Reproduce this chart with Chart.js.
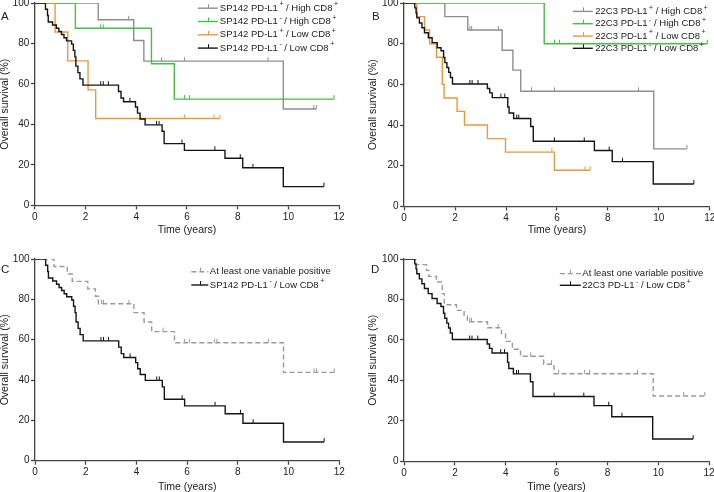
<!DOCTYPE html>
<html>
<head>
<meta charset="utf-8">
<script src="https://cdn.jsdelivr.net/npm/chart.js@4.4.1/dist/chart.umd.min.js"></script>
<style>
  body { margin: 0; width: 714px; height: 492px; overflow: hidden; position: relative; background: #fff;
         font-family: "Liberation Sans", Arial, sans-serif; }
  canvas { position: absolute; }
  .tag { position: absolute; font-size: 11.5px; line-height: 1; color: #222; }
</style>
</head>
<body>
<canvas id="pA"></canvas>
<canvas id="pB"></canvas>
<canvas id="pC"></canvas>
<canvas id="pD"></canvas>
<div class="tag" style="left:1px;top:10.5px">A</div>
<div class="tag" style="left:372px;top:10.5px">B</div>
<div class="tag" style="left:1px;top:263.5px">C</div>
<div class="tag" style="left:371px;top:263.5px">D</div>
<script>
const xTicks = [0, 2, 4, 6, 8, 10, 12];
const yTicks = [0, 20, 40, 60, 80, 100];

const spLabels = ['SP142 PD-L1⁺ / High CD8⁺', 'SP142 PD-L1⁻ / High CD8⁺', 'SP142 PD-L1⁺ / Low CD8⁺', 'SP142 PD-L1⁻ / Low CD8⁺'];
const c3Labels = ['22C3 PD-L1⁺ / High CD8⁺', '22C3 PD-L1⁻ / High CD8⁺', '22C3 PD-L1⁺ / Low CD8⁺', '22C3 PD-L1⁻ / Low CD8⁺'];
const anyLabel = 'At least one variable positive';

// SP142 groups: t = event times (years), s = survival (%) after event, c = censored times
const spPosHigh_t = [0, 2.5, 3.9, 4.3, 9.8, 11.1];
const spPosHigh_s = [100, 91.7, 81.5, 71.3, 47.6, 47.6];
const spPosHigh_c = [3.7, 5.0, 5.9, 9.2, 11.0, 11.1];

const spNegHigh_t = [0, 1.6, 4.6, 5.5, 11.8];
const spNegHigh_s = [100, 87.5, 70, 52.5, 52.5];
const spNegHigh_c = [2.6, 2.7, 5.9, 6.1, 11.8];

const spPosLow_t = [0, 0.8, 1.3, 2.1, 2.4, 7.3];
const spPosLow_s = [100, 85.7, 71.4, 57.1, 42.9, 42.9];
const spPosLow_c = [5.9, 7.07, 7.3];

const spNegLow_t = [0, 0.42, 0.5, 0.53, 0.7, 0.85, 0.95, 1.05, 1.15, 1.25, 1.45, 1.52, 1.58, 1.62, 1.7, 1.78, 1.9,
                    3.3, 3.4, 3.5, 3.97, 4.05, 4.15, 4.35, 5.02, 5.1, 5.9, 7.5, 8.2, 9.8, 11.4];
const spNegLow_s = [100, 96.9, 93.8, 90.6, 89.1, 87.5, 85.9, 84.4, 82.8, 81.3, 79.7, 76.6, 73.4, 68.8, 65.6, 62.5, 59.4,
                    56.3, 53.1, 51.2, 48.6, 45.6, 42.7, 39.8, 36.6, 30.5, 27.2, 23.3, 18.6, 9.3, 9.3];
const spNegLow_c = [2.6, 2.7, 2.9, 3.75, 4.8, 4.9, 5.8, 7.1, 8.1, 8.6, 11.4];

const spAny_t = [0, 0.75, 1.27, 1.47, 2.08, 2.38, 2.5, 3.9, 4.3, 4.6, 5.5, 9.8, 11.8];
const spAny_s = [100, 96.3, 92.6, 88.9, 85.2, 81.5, 77.8, 73.4, 68.8, 64.0, 58.5, 43.8, 43.8];
const spAny_c = [2.62, 2.7, 3.7, 5.05, 5.9, 6.1, 7.07, 7.17, 9.2, 11.0, 11.1, 11.8];

// 22C3 groups
const c3PosHigh_t = [0, 1.6, 2.5, 3.85, 4.27, 4.58, 9.8, 11.1];
const c3PosHigh_s = [100, 93.3, 86.7, 76.8, 67.0, 56.6, 28.3, 28.3];
const c3PosHigh_c = [2.58, 2.65, 3.7, 5.0, 5.9, 9.2, 11.1];

const c3NegHigh_t = [0, 5.5, 11.9];
const c3NegHigh_s = [100, 80, 80];
const c3NegHigh_c = [5.9, 6.1, 11.9];

const c3PosLow_t = [0, 0.5, 0.8, 1.0, 1.27, 1.5, 1.57, 2.08, 2.37, 3.27, 3.98, 5.9, 7.3];
const c3PosLow_s = [100, 93.3, 86.7, 80, 73.3, 60, 53.3, 46.7, 40, 33.3, 26.7, 17.8, 17.8];
const c3PosLow_c = [5.8, 7.1, 7.3];

const c3NegLow_t = [0, 0.42, 0.47, 0.5, 0.6, 0.7, 0.8, 0.95, 1.1, 1.3, 1.45, 1.55, 1.6, 1.68, 1.75, 1.82, 1.9,
                    3.27, 3.36, 3.46, 4.07, 4.12, 4.3, 4.97, 5.07, 7.47, 8.17, 9.78, 11.37];
const c3NegLow_s = [100, 97.6, 95.1, 92.7, 90.2, 87.8, 85.4, 82.9, 80.5, 78.0, 76.5, 73.2, 70.7, 68.3, 65.9, 63.4, 60.2,
                    58.0, 55.8, 53.5, 48.9, 45.9, 43.2, 39.3, 32.0, 27.5, 22.0, 11.0, 11.0];
const c3NegLow_c = [2.58, 2.67, 2.9, 3.8, 3.95, 4.42, 4.5, 5.9, 7.07, 8.05, 8.57, 11.37];

const c3Any_t = [0, 0.46, 0.88, 0.97, 1.27, 1.5, 1.58, 2.06, 2.36, 2.49, 3.28, 3.83, 3.99, 4.26, 4.58, 5.49, 5.9, 9.8, 11.83];
const c3Any_s = [100, 97.2, 94.4, 91.4, 88.6, 82.9, 77.4, 74.6, 71.8, 69.0, 66.0, 63.1, 59.3, 55.4, 51.9, 48.0, 43.3, 32.3, 32.3];
const c3Any_c = [2.58, 2.65, 3.7, 4.98, 5.8, 6.08, 7.1, 7.3, 9.18, 11.0, 11.83];

const GRAY = '#8e8e8e', GREEN = '#3ec43e', ORANGE = '#f0963a', BLACK = '#151515', DASH = '#9a9a9a';
const FONT = '"Liberation Sans", Arial, sans-serif';

function steps(t, s) { return t.map((x, i) => ({ x: x, y: s[i] })); }
function level(t, s, x) { let v = s[0]; t.forEach((tt, i) => { if (tt <= x) v = s[i]; }); return v; }

// small upward tick used as point style for censored cases
function tickImg(color) {
  const c = document.createElement('canvas');
  c.width = 3; c.height = 10;
  const g = c.getContext('2d');
  g.fillStyle = color;
  g.fillRect(1, 1, 1, 4);
  return c;
}

function curve(label, t, s, c, color, dash, order) {
  return [
    { type: 'line', label: label, data: steps(t, s), borderColor: color, borderWidth: 1.4,
      borderDash: dash || [], stepped: true, pointRadius: 0, fill: false, order: order },
    { type: 'scatter', label: label, data: c.map(x => ({ x: x, y: level(t, s, x) })),
      pointStyle: tickImg(color), pointRadius: 3, showLine: false, order: order }
  ];
}

function drawLabel(ctx, text, x, y, size) {
  ctx.fillStyle = '#222';
  ctx.textBaseline = 'middle';
  ctx.textAlign = 'left';
  text.split(/([⁺⁻])/).forEach(part => {
    if (!part) return;
    if (part === '⁺' || part === '⁻') {
      const sub = part === '⁺' ? '+' : '-';
      ctx.font = (size * 0.72) + 'px ' + FONT;
      x += 1.5;
      ctx.fillText(sub, x, y - size * 0.38);
      x += ctx.measureText(sub).width;
    } else {
      ctx.font = size + 'px ' + FONT;
      ctx.fillText(part, x, y);
      x += ctx.measureText(part).width;
    }
  });
}

const kmLegend = {
  id: 'kmLegend',
  afterDatasetsDraw(chart, args, opts) {
    if (!opts.rows) return;
    const ctx = chart.ctx;
    opts.rows.forEach(r => {
      const ds = chart.data.datasets[r.ds];
      const y = r.y - opts.oy, x0 = r.x0 - opts.ox, x1 = r.x1 - opts.ox;
      ctx.save();
      ctx.strokeStyle = ds.borderColor;
      ctx.lineWidth = ds.borderWidth;
      ctx.setLineDash(ds.borderDash || []);
      ctx.beginPath(); ctx.moveTo(x0, y); ctx.lineTo(x1, y); ctx.stroke();
      ctx.setLineDash([]);
      ctx.lineWidth = 1;
      const xm = Math.round((x0 + x1) / 2) + 0.5;
      ctx.beginPath(); ctx.moveTo(xm, y); ctx.lineTo(xm, y - 4); ctx.stroke();
      drawLabel(ctx, ds.label, r.tx - opts.ox, y, opts.size);
      ctx.restore();
    });
  }
};
Chart.register(kmLegend);

function axis(title, min, max, ticks, fit) {
  return {
    type: 'linear', min: min, max: max,
    afterBuildTicks: s => { s.ticks = ticks.map(v => ({ value: v })); },
    afterFit: fit,
    ticks: { color: '#222', font: { family: FONT, size: 10 }, padding: 1.5 },
    grid: { drawOnChartArea: false, drawTicks: true, tickLength: 4, tickColor: '#444', tickWidth: 1.3 },
    border: { color: '#444', width: 1.3 },
    title: { display: true, text: title, color: '#222', font: { family: FONT, size: 10.5 }, padding: 0 }
  };
}

// box: plot area (page px), yt = y-title centre x, xt = x-title centre y
function panel(id, box, datasets, rows) {
  const lh = 10.5 * 1.2;
  const cx = box.yt - lh / 2, cy = box.T - 15;
  const sb = box.xt + lh / 2;
  const cw = Math.ceil(box.R - cx + 18), ch = Math.ceil(sb + 10 - cy);
  const cv = document.getElementById(id);
  cv.width = cw; cv.height = ch;
  cv.style.left = cx + 'px'; cv.style.top = cy + 'px';
  new Chart(cv, {
    data: { datasets: datasets },
    options: {
      responsive: false, animation: false, devicePixelRatio: 1, events: [],
      layout: { padding: { left: 0, top: box.T - cy, right: cx + cw - box.R, bottom: cy + ch - sb } },
      plugins: { legend: { display: false }, tooltip: { enabled: false },
                 kmLegend: { ox: cx, oy: cy, rows: rows, size: 9.5 } },
      scales: {
        x: axis('Time (years)', 0, 12, xTicks, s => { s.height = sb - box.B; }),
        y: axis('Overall survival (%)', 0, 100, yTicks, s => { s.width = box.L - cx; })
      }
    }
  });
}

panel('pA', { L: 35, T: 3.3, R: 339.3, B: 205.7, yt: 5.5, xt: 230 }, [
  ...curve(spLabels[0], spPosHigh_t, spPosHigh_s, spPosHigh_c, GRAY, null, 4),
  ...curve(spLabels[1], spNegHigh_t, spNegHigh_s, spNegHigh_c, GREEN, null, 3),
  ...curve(spLabels[2], spPosLow_t, spPosLow_s, spPosLow_c, ORANGE, null, 2),
  ...curve(spLabels[3], spNegLow_t, spNegLow_s, spNegLow_c, BLACK, null, 1)
], [
  { ds: 0, y: 8.5, x0: 198, x1: 218, tx: 220 },
  { ds: 2, y: 21.8, x0: 198, x1: 218, tx: 220 },
  { ds: 4, y: 35.1, x0: 198, x1: 218, tx: 220 },
  { ds: 6, y: 48.4, x0: 198, x1: 218, tx: 220 }
]);

panel('pB', { L: 404.3, T: 3.3, R: 710, B: 206.7, yt: 373.5, xt: 230 }, [
  ...curve(c3Labels[0], c3PosHigh_t, c3PosHigh_s, c3PosHigh_c, GRAY, null, 4),
  ...curve(c3Labels[1], c3NegHigh_t, c3NegHigh_s, c3NegHigh_c, GREEN, null, 3),
  ...curve(c3Labels[2], c3PosLow_t, c3PosLow_s, c3PosLow_c, ORANGE, null, 2),
  ...curve(c3Labels[3], c3NegLow_t, c3NegLow_s, c3NegLow_c, BLACK, null, 1)
], [
  { ds: 0, y: 11.7, x0: 573, x1: 593, tx: 595.5 },
  { ds: 2, y: 24, x0: 573, x1: 593, tx: 595.5 },
  { ds: 4, y: 36.4, x0: 573, x1: 593, tx: 595.5 },
  { ds: 6, y: 48.6, x0: 573, x1: 593, tx: 595.5 }
]);

panel('pC', { L: 34.7, T: 259, R: 339, B: 460.7, yt: 5, xt: 487 }, [
  ...curve(anyLabel, spAny_t, spAny_s, spAny_c, DASH, [5, 3], 2),
  ...curve(spLabels[3], spNegLow_t, spNegLow_s, spNegLow_c, BLACK, null, 1)
], [
  { ds: 0, y: 271.7, x0: 191, x1: 208, tx: 209.5 },
  { ds: 2, y: 285, x0: 191, x1: 208, tx: 209.5 }
]);

panel('pD', { L: 404.3, T: 258.7, R: 709.3, B: 461, yt: 373.5, xt: 487 }, [
  ...curve(anyLabel, c3Any_t, c3Any_s, c3Any_c, DASH, [5, 3], 2),
  ...curve(c3Labels[3], c3NegLow_t, c3NegLow_s, c3NegLow_c, BLACK, null, 1)
], [
  { ds: 0, y: 273.3, x0: 560, x1: 581, tx: 582.5 },
  { ds: 2, y: 285, x0: 560, x1: 581, tx: 582.5 }
]);
</script>
</body>
</html>
